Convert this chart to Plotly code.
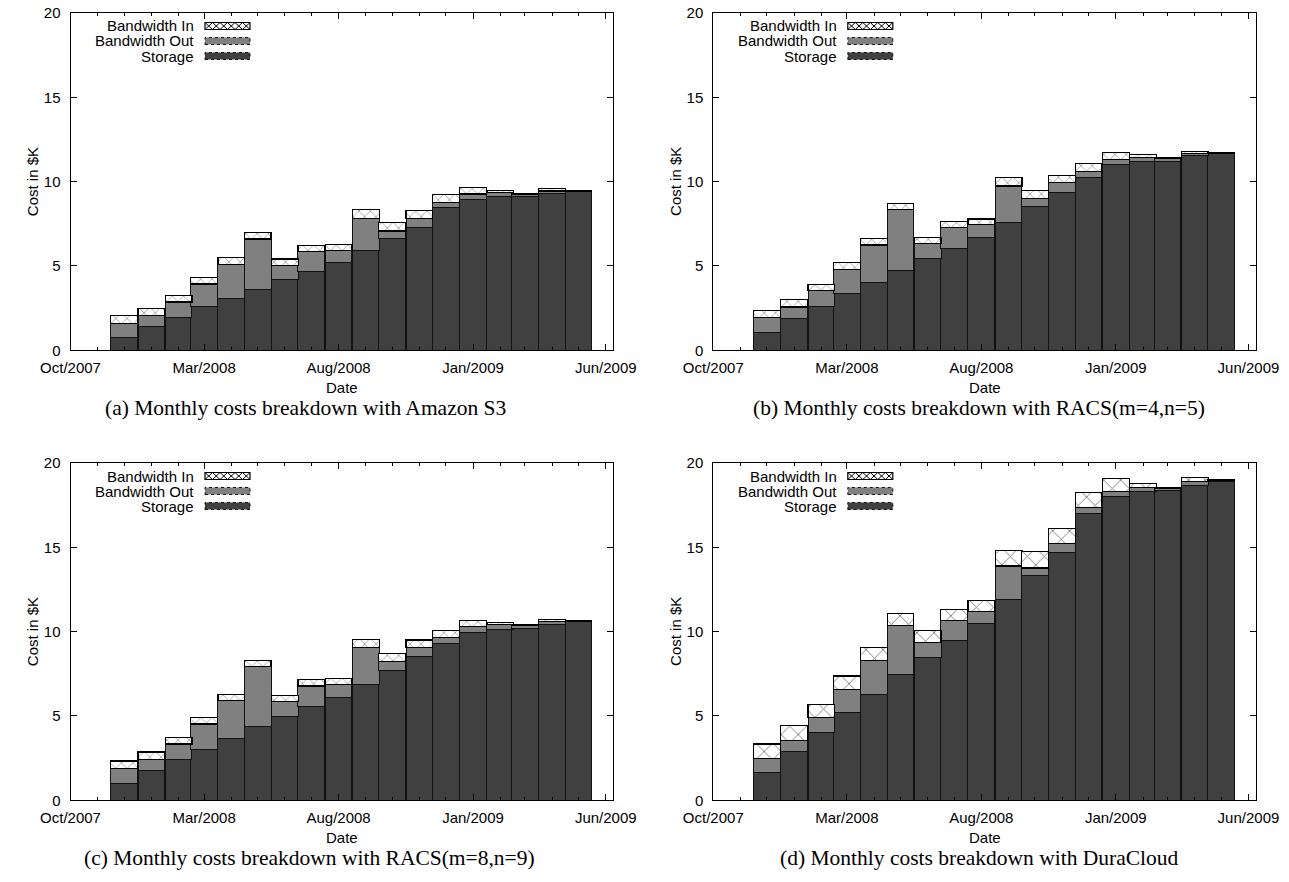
import plotly.graph_objects as go

# ---------------- data ----------------
months = ["2007-12-01", "2008-01-01", "2008-02-01", "2008-03-01", "2008-04-01", "2008-05-01",
          "2008-06-01", "2008-07-01", "2008-08-01", "2008-09-01", "2008-10-01", "2008-11-01",
          "2008-12-01", "2009-01-01", "2009-02-01", "2009-03-01", "2009-04-01", "2009-05-01"]

tick_dates = ["2007-10-01", "2008-03-01", "2008-08-01", "2009-01-01", "2009-06-01"]
tick_labels = ["Oct/2007", "Mar/2008", "Aug/2008", "Jan/2009", "Jun/2009"]
y_ticks = [0, 5, 10, 15, 20]

series_names = ["Storage", "Bandwidth Out", "Bandwidth In"]

s3_storage = [0.75, 1.40, 1.96, 2.57, 3.08, 3.63, 4.19, 4.70, 5.19, 5.89, 6.62, 7.31, 8.44, 8.93, 9.11, 9.13, 9.30, 9.40]
s3_bw_out = [0.85, 0.65, 0.90, 1.36, 2.02, 2.97, 0.83, 1.15, 0.72, 1.93, 0.45, 0.51, 0.33, 0.34, 0.26, 0.14, 0.14, 0.04]
s3_bw_in = [0.45, 0.44, 0.40, 0.40, 0.39, 0.37, 0.39, 0.37, 0.37, 0.54, 0.50, 0.48, 0.48, 0.39, 0.09, 0.04, 0.16, 0.04]

racs45_storage = [1.04, 1.87, 2.57, 3.34, 4.03, 4.72, 5.43, 6.06, 6.70, 7.59, 8.51, 9.38, 10.25, 11.00, 11.22, 11.22, 11.54, 11.66]
racs45_bw_out = [0.92, 0.70, 0.96, 1.46, 2.21, 3.62, 0.89, 1.23, 0.75, 2.15, 0.50, 0.56, 0.36, 0.30, 0.22, 0.14, 0.14, 0.02]
racs45_bw_in = [0.41, 0.43, 0.38, 0.42, 0.38, 0.37, 0.36, 0.36, 0.33, 0.49, 0.45, 0.43, 0.45, 0.41, 0.16, 0.04, 0.13, 0.03]

racs89_storage = [0.97, 1.74, 2.39, 3.04, 3.69, 4.36, 4.96, 5.55, 6.08, 6.89, 7.72, 8.54, 9.31, 9.94, 10.14, 10.20, 10.45, 10.59]
racs89_bw_out = [0.90, 0.69, 0.95, 1.48, 2.24, 3.56, 0.88, 1.23, 0.80, 2.18, 0.50, 0.51, 0.33, 0.35, 0.29, 0.15, 0.16, 0.02]
racs89_bw_in = [0.46, 0.43, 0.37, 0.40, 0.35, 0.38, 0.36, 0.37, 0.33, 0.47, 0.49, 0.45, 0.45, 0.38, 0.12, 0.04, 0.12, 0.04]

dura_storage = [1.64, 2.92, 4.03, 5.22, 6.30, 7.43, 8.49, 9.50, 10.47, 11.91, 13.34, 14.72, 17.01, 18.00, 18.29, 18.35, 18.69, 18.93]
dura_bw_out = [0.85, 0.61, 0.89, 1.34, 2.00, 2.92, 0.89, 1.15, 0.71, 1.98, 0.43, 0.49, 0.33, 0.29, 0.26, 0.14, 0.20, 0.05]
dura_bw_in = [0.85, 0.91, 0.77, 0.81, 0.77, 0.73, 0.67, 0.67, 0.68, 0.91, 0.99, 0.91, 0.92, 0.77, 0.24, 0.06, 0.23, 0.06]

captions = ["(a) Monthly costs breakdown with Amazon S3",
            "(b) Monthly costs breakdown with RACS(m=4,n=5)",
            "(c) Monthly costs breakdown with RACS(m=8,n=9)",
            "(d) Monthly costs breakdown with DuraCloud"]

panels_data = [
    (s3_storage, s3_bw_out, s3_bw_in),
    (racs45_storage, racs45_bw_out, racs45_bw_in),
    (racs89_storage, racs89_bw_out, racs89_bw_in),
    (dura_storage, dura_bw_out, dura_bw_in),
]

# ---------------- layout geometry (pixels) ----------------
W, H = 1289, 882
# (left, right, top, bottom) of each plot area
boxes = [(70.5, 613.3, 13.0, 350.3),
         (713.3, 1256.0, 13.0, 350.3),
         (70.5, 613.3, 463.0, 800.3),
         (713.3, 1256.0, 463.0, 800.3)]
caption_cx = [305, 979, 309, 979]
hatch_size = [8, 8, 8, 12]

X_RANGE = ["2007-10-01", "2009-06-09 14:00"]
BAR_WIDTH_MS = 30.4 * 86400000

STORAGE_COLOR = "#404040"
OUT_COLOR = "#808080"
SANS = "Liberation Sans, Arial, sans-serif"
SERIF = "Liberation Serif, Times New Roman, serif"


def px(x):
    return x / W


def py(y):
    return 1 - y / H


fig = go.Figure()
layout = dict(width=W, height=H, margin=dict(l=0, r=0, t=0, b=0, autoexpand=False),
              paper_bgcolor="white", plot_bgcolor="white", barmode="stack",
              showlegend=False, font=dict(family=SANS, size=15, color="black"))
shapes = []
annotations = []

for i, ((stor, bout, bin_), (l, r, t, b)) in enumerate(zip(panels_data, boxes)):
    n = "" if i == 0 else str(i + 1)
    xa, ya = "x" + n, "y" + n
    common = dict(x=months, width=[BAR_WIDTH_MS] * len(months), xaxis=xa, yaxis=ya)
    fig.add_trace(go.Bar(y=stor, name=series_names[0],
                         marker=dict(color=STORAGE_COLOR, line=dict(color="#111111", width=1)), **common))
    fig.add_trace(go.Bar(y=bout, name=series_names[1],
                         marker=dict(color=OUT_COLOR, line=dict(color="#111111", width=1)), **common))
    fig.add_trace(go.Bar(y=bin_, name=series_names[2],
                         marker=dict(color="white", line=dict(color="black", width=1.2),
                                     pattern=dict(shape="x", fgcolor="black", bgcolor="white",
                                                  size=hatch_size[i], solidity=0.15, fillmode="overlay")),
                         **common))

    layout["xaxis" + n] = dict(domain=[px(l), px(r)], anchor=ya, type="date", range=X_RANGE,
                               automargin=False,
                               tickmode="array", tickvals=tick_dates, ticktext=tick_labels,
                               ticks="inside", ticklen=6, tickcolor="black",
                               showline=True, linecolor="black", linewidth=1, mirror="ticks",
                               showgrid=False, zeroline=False, ticklabelstandoff=4,
                               tickfont=dict(family=SANS, size=15),
                               minor=dict(dtick="M1", tick0="2007-10-01", ticks="inside",
                                          ticklen=3, tickcolor="black", showgrid=False))
    layout["yaxis" + n] = dict(domain=[py(b), py(t)], anchor=xa, range=[0, 20],
                               automargin=False,
                               tickmode="array", tickvals=y_ticks,
                               ticks="inside", ticklen=6, tickcolor="black",
                               showline=True, linecolor="black", linewidth=1, mirror="ticks",
                               showgrid=False, zeroline=False, ticklabelstandoff=6,
                               tickfont=dict(family=SANS, size=15))

    # axis titles and caption
    annotations.append(dict(text="Date", x=px((l + r) / 2), y=py(b + 37.5), xref="paper", yref="paper",
                            showarrow=False, font=dict(family=SANS, size=15), borderpad=0,
                            xanchor="center", yanchor="middle"))
    annotations.append(dict(text="Cost in $K", x=px(l - 38), y=py((t + b) / 2), xref="paper", yref="paper",
                            showarrow=False, textangle=-90, font=dict(family=SANS, size=15),
                            xanchor="center", yanchor="middle"))
    annotations.append(dict(text=captions[i], x=px(caption_cx[i]), y=py(b + 58), xref="paper", yref="paper",
                            showarrow=False, font=dict(family=SERIF, size=21.5), borderpad=0,
                            xanchor="center", yanchor="middle"))

    # key (legend) in gnuplot style: text then swatch
    key_rows = [(series_names[2], "in"), (series_names[1], "out"), (series_names[0], "stor")]
    for k, (label, kind) in enumerate(key_rows):
        cy = t + 13 + 15 * k
        annotations.append(dict(text=label, x=px(l + 124.5), y=py(cy), xref="paper", yref="paper",
                                showarrow=False, font=dict(family=SANS, size=15), borderpad=0,
                                xanchor="right", yanchor="middle"))
        x0, x1 = l + 134.5, l + 179.5
        y0, y1 = cy - 3.5, cy + 3.5
        if kind == "in":
            shapes.append(dict(type="rect", xref="paper", yref="paper",
                               x0=px(x0), x1=px(x1), y0=py(y1), y1=py(y0),
                               fillcolor="white", line=dict(color="black", width=1.2)))
            hgt = y1 - y0
            steps = int(round((x1 - x0) / hgt))
            step = (x1 - x0) / steps
            path = ""
            for s in range(steps):
                xa0 = x0 + s * step
                xa1 = xa0 + step
                path += f"M{px(xa0)},{py(y0)} L{px(xa1)},{py(y1)} M{px(xa0)},{py(y1)} L{px(xa1)},{py(y0)} "
            shapes.append(dict(type="path", xref="paper", yref="paper", path=path.strip(),
                               line=dict(color="black", width=1)))
        else:
            col = OUT_COLOR if kind == "out" else STORAGE_COLOR
            shapes.append(dict(type="rect", xref="paper", yref="paper",
                               x0=px(x0), x1=px(x1), y0=py(y1), y1=py(y0),
                               fillcolor=col, line=dict(color="#111111", width=1, dash="dot")))

layout["shapes"] = shapes
layout["annotations"] = annotations
fig.update_layout(**layout)
fig.write_html("out.html", config={"displayModeBar": False},
               post_script="document.body.style.margin='0';document.body.style.overflow='hidden';")
